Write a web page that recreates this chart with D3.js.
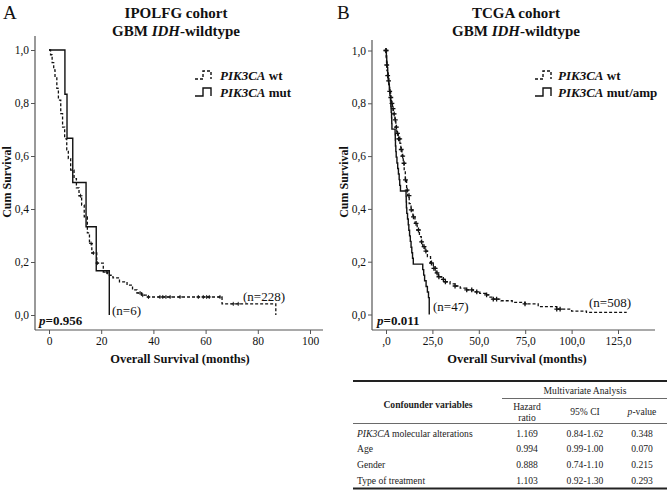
<!DOCTYPE html>
<html><head><meta charset="utf-8">
<script src="https://cdn.jsdelivr.net/npm/d3@7"></script>
<style>
body{margin:0;background:#fff}
svg{display:block}
text{font-family:"Liberation Serif","Times New Roman",serif;fill:#111}
</style>
</head><body>
<svg id="c" width="670" height="501"></svg>
<script>
// ================= DATA =================
const xTicksA = [0, 20, 40, 60, 80, 100];
const xTickLabelsA = ["0", "20", "40", "60", "80", "100"];
const xTicksB = [0, 25, 50, 75, 100, 125];
const xTickLabelsB = [",0", "25,0", "50,0", "75,0", "100,0", "125,0"];
const yTicks = [0, 0.2, 0.4, 0.6, 0.8, 1.0];
const yTickLabels = ["0,0", "0,2", "0,4", "0,6", "0,8", "1,0"];

// Panel A: IPOLFG cohort  [months, cumulative survival]
const ipolfgWt = [[0,1.0],[0.6,0.982],[1.2,0.952],[1.8,0.925],[2.3,0.898],[3.0,0.855],[3.6,0.811],[4.5,0.76],[5.2,0.709],[6.0,0.665],[6.8,0.623],[7.4,0.59],[8.3,0.547],[9.6,0.515],[10.5,0.48],[11.5,0.45],[12.5,0.415],[13.5,0.37],[14.7,0.31],[15.5,0.27],[16.4,0.234],[18.3,0.196],[20.8,0.162],[22.5,0.15],[24.5,0.14],[27,0.125],[29.9,0.113],[32,0.095],[33.7,0.083],[35.5,0.075],[37.5,0.068],[66.3,0.042],[86.9,0.0]];
const ipolfgWtCensored = [12.1, 16.1, 17.0, 18.5, 22.1, 34.9, 35.9, 38.1, 42.5, 43.6, 44.8, 46.4, 50.2, 57.2, 59.1, 60.4, 61.4, 65.5, 70.6, 72.5];
const ipolfgMut = [[0,1.0],[6.1,0.833],[6.9,0.667],[9.1,0.5],[14.2,0.333],[18.1,0.167],[23.1,0.0]];

// Panel B: TCGA cohort  [months, cumulative survival]
const tcgaWt = [[0,1.0],[0.1,0.97],[0.3,0.945],[0.5,0.925],[0.8,0.905],[1.2,0.885],[1.6,0.865],[2.0,0.845],[2.5,0.822],[3.0,0.8],[3.5,0.78],[4.0,0.76],[4.8,0.737],[5.3,0.71],[5.8,0.686],[6.6,0.665],[7.5,0.648],[8.0,0.625],[8.6,0.6],[9.3,0.573],[9.8,0.545],[10.4,0.51],[11.1,0.471],[11.7,0.45],[12.5,0.42],[13.5,0.396],[14.5,0.37],[15.6,0.345],[16.8,0.32],[18.0,0.295],[19.0,0.275],[19.8,0.257],[21.0,0.24],[22.3,0.219],[24.0,0.195],[25.5,0.175],[27.0,0.158],[28.2,0.143],[30.0,0.133],[31.8,0.124],[34.5,0.116],[37.2,0.108],[40,0.1],[43.5,0.093],[47,0.086],[50.5,0.08],[54.2,0.074],[56,0.066],[57.8,0.058],[62,0.052],[68,0.046],[74.9,0.04],[82,0.03],[92,0.02],[100,0.013],[108,0.008]];
const tcgaWtLastFollowUp = 129.7;
const tcgaWtCensored = [0, 0.4, 0.9, 1.4, 2.0, 2.6, 3.2, 3.8, 4.4, 5.0, 5.6, 6.2, 6.8, 7.4, 8.2, 9.0, 9.7, 10.5, 11.4, 12.4, 13.6, 14.8, 16.2, 17.5, 19.2, 20.5, 21.5, 24.5, 25.8, 26.5, 27.5, 28.5, 30.9, 32, 37.2, 43.5, 46.2, 48.9, 54.2, 57.8, 59.6, 74.9, 92, 93.8];
const tcgaMut = [[0,1.0],[0.2,0.979],[0.4,0.957],[0.6,0.936],[0.9,0.915],[1.2,0.894],[1.5,0.872],[1.8,0.851],[2.1,0.83],[2.4,0.809],[2.6,0.787],[2.8,0.766],[3.0,0.745],[3.1,0.723],[3.2,0.702],[4.9,0.681],[5.0,0.66],[5.1,0.638],[5.3,0.617],[5.5,0.596],[5.9,0.574],[6.3,0.553],[6.7,0.532],[7.1,0.511],[7.4,0.489],[7.8,0.468],[10.8,0.447],[10.9,0.426],[11.0,0.404],[11.2,0.383],[11.6,0.362],[12.0,0.34],[12.3,0.319],[12.7,0.298],[13.1,0.277],[13.5,0.255],[13.9,0.234],[14.3,0.213],[14.7,0.191],[19.8,0.17],[20.3,0.149],[20.8,0.128],[21.6,0.106],[22.3,0.085],[22.9,0.064],[23.3,0.0]];
const tcgaMutCensored = [0];

// Multivariate table
const tableVariables = ["PIK3CA molecular alterations", "Age", "Gender", "Type of treatment"];
const hazardRatios = ["1.169", "0.994", "0.888", "1.103"];
const confidence95 = ["0.84-1.62", "0.99-1.00", "0.74-1.10", "0.92-1.30"];
const pValues = ["0.348", "0.070", "0.215", "0.293"];

// ================= DRAWING =================
const svg = d3.select("#c");
const INK = "#111";
const AXIS = "#555";

function survAt(data, t) {
  const i = d3.bisector(d => d[0]).right(data, t) - 1;
  return data[Math.max(0, i)][1];
}

function drawPanel(cfg) {
  const g = svg.append("g");
  const x = d3.scaleLinear().domain(cfg.xDomain).range(cfg.xRange);
  const y = d3.scaleLinear().domain([0, 1]).range(cfg.yRange);

  // axes
  const xa = g.append("g").attr("transform", `translate(0,${cfg.axisY})`)
    .call(d3.axisBottom(x).tickValues(cfg.xTicks).tickFormat((d, i) => cfg.xLabels[i]).tickSize(4).tickPadding(3));
  const ya = g.append("g").attr("transform", `translate(${cfg.axisX},0)`)
    .call(d3.axisLeft(y).tickValues(yTicks).tickFormat((d, i) => yTickLabels[i]).tickSize(4).tickPadding(2));
  [xa, ya].forEach(a => {
    a.select(".domain").remove();
    a.selectAll(".tick line").attr("stroke", AXIS).attr("stroke-width", 1);
    a.selectAll(".tick text").attr("font-size", 11.5).attr("font-family", "Liberation Serif").attr("fill", "#222");
  });
  g.append("line").attr("x1", cfg.axisX).attr("x2", cfg.axisX).attr("y1", cfg.axisTop).attr("y2", cfg.axisY)
    .attr("stroke", AXIS).attr("stroke-width", 1.2);
  g.append("line").attr("x1", cfg.axisX).attr("x2", cfg.axisRight).attr("y1", cfg.axisY).attr("y2", cfg.axisY)
    .attr("stroke", AXIS).attr("stroke-width", 1.2);

  const line = d3.line().x(d => x(d[0])).y(d => y(d[1])).curve(d3.curveStepAfter);

  // wildtype (dashed)
  g.append("path").attr("d", line(cfg.wt)).attr("fill", "none").attr("stroke", INK)
    .attr("stroke-width", 1.3).attr("stroke-dasharray", "3,2");
  // mutant (solid)
  g.append("path").attr("d", line(cfg.mut)).attr("fill", "none").attr("stroke", INK)
    .attr("stroke-width", 1.4);

  // censor marks
  const cs = cfg.censorSize;
  const marks = cfg.wtCensor.map(t => [t, survAt(cfg.wt, t)])
    .concat(cfg.mutCensor.map(t => [t, survAt(cfg.mut, t)]));
  g.append("g").selectAll("path").data(marks).join("path")
    .attr("d", d => `M${x(d[0]) - cs},${y(d[1])}H${x(d[0]) + cs}M${x(d[0])},${y(d[1]) - cs}V${y(d[1]) + cs}`)
    .attr("stroke", INK).attr("stroke-width", cfg.censorWidth);

  // panel letter
  g.append("text").attr("x", cfg.letterX).attr("y", 19).attr("font-size", 19).text(cfg.letter);
  // titles
  g.append("text").attr("x", cfg.titleX).attr("y", 18).attr("text-anchor", "middle")
    .attr("font-size", 15).attr("font-weight", "bold").text(cfg.title);
  const t2 = g.append("text").attr("x", cfg.titleX).attr("y", 35.5).attr("text-anchor", "middle")
    .attr("font-size", 15).attr("font-weight", "bold");
  t2.append("tspan").text("GBM ");
  t2.append("tspan").attr("font-style", "italic").text("IDH");
  t2.append("tspan").text("-wildtype");

  // legend
  const lx = cfg.legendX;
  const rows = [{dash: "3,2", y: 75, label: "wt"}, {dash: null, y: 92, label: cfg.mutLabel}];
  rows.forEach(r => {
    g.append("path").attr("d", `M${lx},${r.y + 4}H${lx + 8}V${r.y - 4}H${lx + 16}V${r.y + 4}`)
      .attr("fill", "none").attr("stroke", INK).attr("stroke-width", 1.4)
      .attr("stroke-dasharray", r.dash);
    const t = g.append("text").attr("x", cfg.legendTextX).attr("y", r.y + 4.5)
      .attr("font-size", 13).attr("font-weight", "bold");
    t.append("tspan").attr("font-style", "italic").text("PIK3CA");
    t.append("tspan").text(" " + r.label);
  });

  // axis titles
  g.append("text").attr("x", cfg.xTitleX).attr("y", 362.5).attr("text-anchor", "middle")
    .attr("font-size", 12.5).attr("font-weight", "bold").text("Overall Survival (months)");
  g.append("text").attr("transform", `translate(${cfg.yTitleX},182) rotate(-90)`).attr("text-anchor", "middle")
    .attr("font-size", 12).attr("font-weight", "bold").text("Cum Survival");

  // p-value
  const p = g.append("text").attr("x", cfg.pX).attr("y", 325).attr("font-size", 13).attr("font-weight", "bold");
  p.append("tspan").attr("font-style", "italic").text("p");
  p.append("tspan").text("=" + cfg.pValue);

  // n labels
  g.append("text").attr("x", cfg.nMutPos[0]).attr("y", cfg.nMutPos[1]).attr("font-size", 13).text(cfg.nMut);
  g.append("text").attr("x", cfg.nWtPos[0]).attr("y", cfg.nWtPos[1]).attr("font-size", 13).text(cfg.nWt);
}

drawPanel({
  letter: "A", letterX: 3, title: "IPOLFG cohort", titleX: 176,
  xDomain: [0, 100], xRange: [49, 310], yRange: [315, 50],
  xTicks: xTicksA, xLabels: xTickLabelsA,
  axisX: 35, axisY: 330, axisTop: 36, axisRight: 323,
  wt: ipolfgWt, mut: ipolfgMut, wtCensor: ipolfgWtCensored, mutCensor: [],
  censorSize: 2, censorWidth: 0.9,
  legendX: 195, legendTextX: 220, mutLabel: "mut",
  xTitleX: 180, yTitleX: 11, pX: 39, pValue: "0.956",
  nMut: "(n=6)", nMutPos: [112, 314.5], nWt: "(n=228)", nWtPos: [243, 301]
});

drawPanel({
  letter: "B", letterX: 337, title: "TCGA cohort", titleX: 516,
  xDomain: [0, 125], xRange: [386, 618], yRange: [314.5, 50.5],
  xTicks: xTicksB, xLabels: xTickLabelsB,
  axisX: 372, axisY: 330, axisTop: 40, axisRight: 655,
  wt: tcgaWt.concat([[tcgaWtLastFollowUp, tcgaWt[tcgaWt.length - 1][1]]]),
  mut: tcgaMut, wtCensor: tcgaWtCensored, mutCensor: tcgaMutCensored,
  censorSize: 2.4, censorWidth: 1.3,
  legendX: 535, legendTextX: 558, mutLabel: "mut/amp",
  xTitleX: 517, yTitleX: 348, pX: 377, pValue: "0.011",
  nMut: "(n=47)", nMutPos: [433, 311], nWt: "(n=508)", nWtPos: [589, 307]
});

// ---------- table ----------
const tg = svg.append("g");
const T = {left: 353, right: 667, mvLeft: 502};
const colX = [527, 585, 642];
const rowY = [433.5, 449, 465, 481];
const fs = 9.6;
const tColor = "#222";

tg.append("line").attr("x1", T.left).attr("x2", T.right).attr("y1", 381).attr("y2", 381).attr("stroke", "#222").attr("stroke-width", 1.8);
tg.append("line").attr("x1", T.mvLeft).attr("x2", T.right).attr("y1", 398.5).attr("y2", 398.5).attr("stroke", "#444").attr("stroke-width", 0.8);
tg.append("line").attr("x1", T.left).attr("x2", T.right).attr("y1", 423.5).attr("y2", 423.5).attr("stroke", "#444").attr("stroke-width", 0.8);
tg.append("line").attr("x1", T.left).attr("x2", T.right).attr("y1", 488.5).attr("y2", 488.5).attr("stroke", "#222").attr("stroke-width", 1.8);

function tt(x, y, str, anchor, extra) {
  const t = tg.append("text").attr("x", x).attr("y", y).attr("font-size", fs).attr("text-anchor", anchor || "start").style("fill", tColor);
  if (extra) extra(t); else t.text(str);
  return t;
}
tt(585, 393.5, "Multivariate Analysis", "middle");
tt(428, 408, "Confounder variables", "middle").attr("font-weight", "bold");
tt(colX[0], 410, "Hazard", "middle");
tt(colX[0], 420.5, "ratio", "middle");
tt(colX[1], 415, "95% CI", "middle");
tt(colX[2], 415, null, "middle", t => {
  t.append("tspan").attr("font-style", "italic").text("p");
  t.append("tspan").text("-value");
});

tableVariables.forEach((v, i) => {
  const yb = rowY[i] + 3.3;
  if (v.startsWith("PIK3CA")) {
    tt(357, yb, null, "start", t => {
      t.append("tspan").attr("font-style", "italic").text("PIK3CA");
      t.append("tspan").text(v.slice(6));
    });
  } else {
    tt(357, yb, v);
  }
  tt(colX[0], yb, hazardRatios[i], "middle");
  tt(colX[1], yb, confidence95[i], "middle");
  tt(colX[2], yb, pValues[i], "middle");
});
</script>
</body></html>
